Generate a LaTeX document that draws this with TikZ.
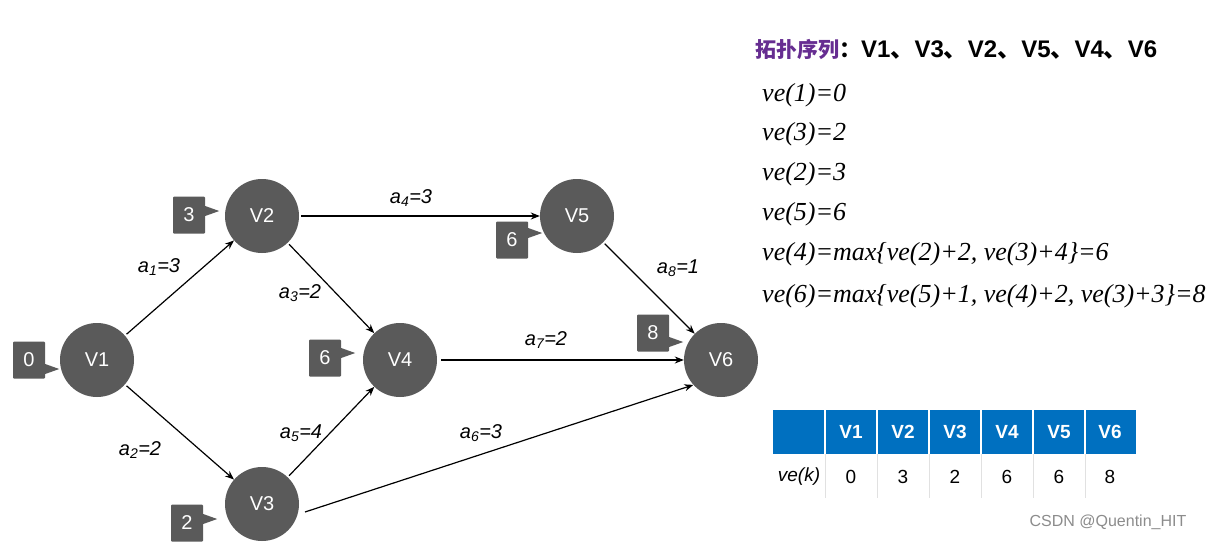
\documentclass[tikz,border=0pt]{standalone}
\usepackage{fontspec}
\setmainfont{Liberation Sans}
\newfontfamily\tnr{Liberation Serif}
\newfontfamily\cjk{Noto Sans CJK SC}
\usetikzlibrary{arrows.meta,calc}
\definecolor{nodegray}{RGB}{90,90,90}
\definecolor{hdrblue}{RGB}{0,112,192}
\definecolor{seqpurple}{RGB}{102,45,145}
\definecolor{sepgray}{RGB}{225,225,225}
\newcommand{\ptr}[2]{\fill[nodegray] ([yshift=#2+5pt]#1.east) -- ++(14pt,-5pt) -- ([yshift=#2-5pt]#1.east) -- cycle;}
\begin{document}
\begin{tikzpicture}[x=1pt,y=-1pt,
 vtx/.style={circle,fill=nodegray,minimum size=74pt,inner sep=0pt,text=white,font=\fontsize{20}{24}\selectfont},
 valbox/.style={rectangle,fill=nodegray,minimum width=32pt,minimum height=37pt,inner sep=0pt,text=white,rounded corners=1pt,font=\fontsize{20}{24}\selectfont},
 edge/.style={line width=1.2pt,-{Stealth[length=9pt,width=7pt]},shorten <=2pt},
 elabel/.style={font=\fontsize{20}{24}\selectfont\itshape},
 veline/.style={anchor=west,inner sep=0pt,font=\tnr\itshape\fontsize{26}{30}\selectfont},
 hcell/.style={text=white,font=\bfseries\fontsize{19}{23}\selectfont},
 rcell/.style={text=black,font=\fontsize{19}{23}\selectfont},
]
\useasboundingbox (0,0) rectangle (1212,544);
\fill[white] (0,0) rectangle (1212,544);

% vertices
\node[vtx] (v1) at (97,360) {V1};
\node[vtx] (v2) at (262,216) {V2};
\node[vtx] (v3) at (262,504) {V3};
\node[vtx] (v4) at (400,360) {V4};
\node[vtx] (v5) at (577,216) {V5};
\node[vtx] (v6) at (721,360) {V6};

% value boxes
\node[valbox] (b1) at (29,360) {0};
\node[valbox] (b2) at (189,215) {3};
\node[valbox] (b3) at (187,523) {2};
\node[valbox] (b4) at (325,358) {6};
\node[valbox] (b5) at (512,240) {6};
\node[valbox] (b6) at (653,333) {8};
\ptr{b1}{-9pt}
\ptr{b2}{4pt}
\ptr{b3}{4pt}
\ptr{b4}{5pt}
\ptr{b5}{7pt}
\ptr{b6}{-9pt}

% edges
\coordinate (s36) at (305,512);
\draw[edge] (v1) -- (v2);
\draw[edge] (v1) -- (v3);
\draw[edge] (v2) -- (v4);
\draw[edge] (v2) -- (v5);
\draw[edge] (v3) -- (v4);
\draw[edge,shorten <=0pt] (s36) -- (v6.222);
\draw[edge,shorten <=4pt] (v4) -- (v6);
\draw[edge] (v5) -- (v6);

% edge labels
\node[elabel] (la1) at (159,267) {a\textsubscript{1}=3};
\node[elabel] (la2) at (140,450) {a\textsubscript{2}=2};
\node[elabel] (la3) at (300,293) {a\textsubscript{3}=2};
\node[elabel] (la4) at (411,198) {a\textsubscript{4}=3};
\node[elabel] (la5) at (301,433) {a\textsubscript{5}=4};
\node[elabel] (la6) at (481,433) {a\textsubscript{6}=3};
\node[elabel] (la7) at (546,340) {a\textsubscript{7}=2};
\node[elabel] (la8) at (678,268) {a\textsubscript{8}=1};

% topological order
\node[anchor=west,inner sep=0pt] (title) at (755,50) {{\cjk\bfseries\color{seqpurple}\fontsize{21}{25}\selectfont 拓扑序列}{\cjk\bfseries\fontsize{22}{26}\selectfont ：}{\bfseries\fontsize{24}{28}\selectfont V1{\cjk 、}V3{\cjk 、}V2{\cjk 、}V5{\cjk 、}V4{\cjk 、}V6}};

\node[veline] (e1) at (762,95) {ve(1)=0};
\node[veline] (e2) at (762,134) {ve(3)=2};
\node[veline] (e3) at (762,174) {ve(2)=3};
\node[veline] (e4) at (762,214) {ve(5)=6};
\node[veline] (e5) at (762,254) {ve(4)=max\{ve(2)+2, ve(3)+4\}=6};
\node[veline] (e6) at (762,296) {ve(6)=max\{ve(5)+1, ve(4)+2, ve(3)+3\}=8};

% table
\fill[hdrblue] (773,410) rectangle (1136,454);
\foreach \x in {825,877,929,981,1033,1085} {
  \draw[white,line width=1.5pt] (\x,410) -- (\x,454);
  \draw[sepgray,line width=1pt] (\x,454) -- (\x,498);
}
\node[hcell] (h1) at (851,432) {V1};
\node[hcell] (h2) at (903,432) {V2};
\node[hcell] (h3) at (955,432) {V3};
\node[hcell] (h4) at (1007,432) {V4};
\node[hcell] (h5) at (1059,432) {V5};
\node[hcell] (h6) at (1110,432) {V6};
\node[rcell] (rl) at (799,477) {\itshape ve(k)};
\node[rcell] (r1) at (851,477) {0};
\node[rcell] (r2) at (903,477) {3};
\node[rcell] (r3) at (955,477) {2};
\node[rcell] (r4) at (1007,477) {6};
\node[rcell] (r5) at (1059,477) {6};
\node[rcell] (r6) at (1110,477) {8};

% watermark
\node[text=black!45,font=\fontsize{16}{19}\selectfont] (wm) at (1108,522) {CSDN @Quentin\_HIT};
\end{tikzpicture}
\end{document}
